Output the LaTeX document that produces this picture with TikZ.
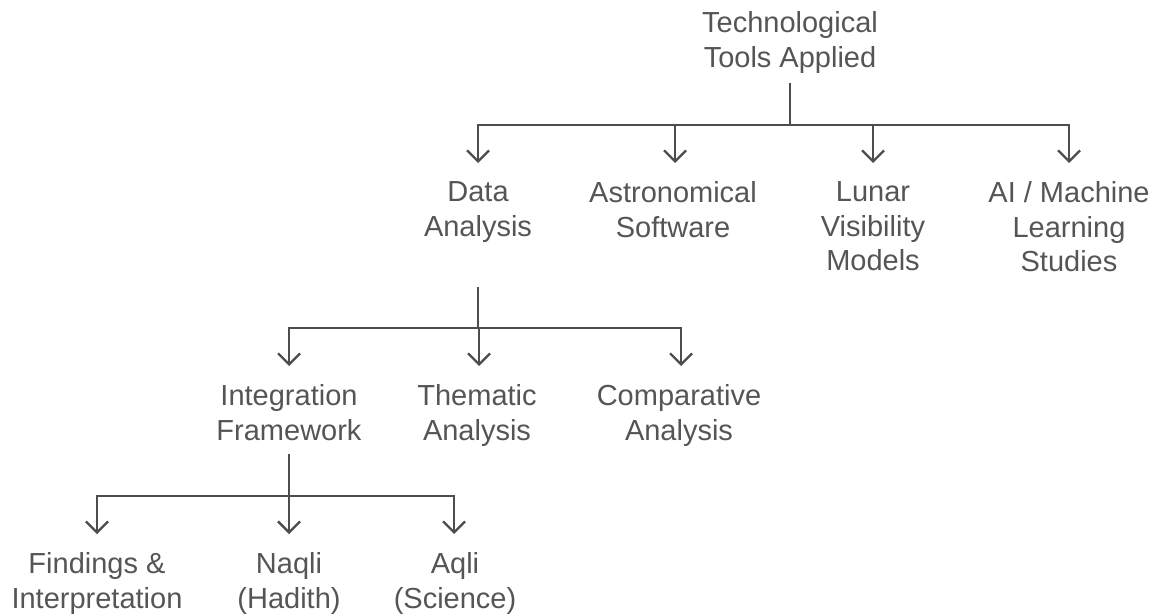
\documentclass[tikz,border=0pt]{standalone}
\usepackage{fontspec}
\setmainfont{Liberation Sans}
\usetikzlibrary{arrows.meta}
\definecolor{txt}{HTML}{555555}
\definecolor{ln}{HTML}{4D4D4D}
\begin{document}
\begin{tikzpicture}[x=1pt,y=1pt,
  lbl/.style={anchor=north, inner sep=0pt, align=center, text=txt, font=\fontsize{29}{34.5}\selectfont},
  conn/.style={draw=ln, line width=2.3pt, -{Straight Barb[length=11pt,width=22pt,line width=2.3pt]}, shorten >=18.5pt}]
\useasboundingbox (0,0) rectangle (1155,-615);
% level 0
\node[lbl] (root) at (790,-11.5) {Technological\\Tools Applied};
% level 1
\node[lbl] (da) at (478,-181.5) {Data\\Analysis};
\node[lbl] (as) at (673,-181.5) {Astronomical\\Software};
\node[lbl] (lv) at (873,-181.5) {Lunar\\Visibility\\Models};
\node[lbl] (ai) at (1069,-181.5) {AI / Machine\\Learning\\Studies};
% level 2
\node[lbl] (if) at (289,-384.5) {Integration\\Framework};
\node[lbl] (ta) at (477,-384.5) {Thematic\\Analysis};
\node[lbl] (ca) at (679,-384.5) {Comparative\\Analysis};
% level 3
\node[lbl] (fi) at (97,-552.5) {Findings \&\\Interpretation};
\node[lbl] (nq) at (289,-552.5) {Naqli\\(Hadith)};
\node[lbl] (aq) at (455,-552.5) {Aqli\\(Science)};
% connectors
\foreach \c/\x in {da/478,as/675,lv/873,ai/1069}
  \draw[conn] (root.south |- 0,-83) -- (root.south |- 0,-125) -| (\c.north -| \x,0);
\foreach \c/\x in {if/289,ta/479,ca/681}
  \draw[conn] (da.south |- 0,-287) -- (da.south |- 0,-328) -| (\c.north -| \x,0);
\foreach \c/\x in {fi/97,nq/289,aq/454}
  \draw[conn] (if.south |- 0,-454) -- (if.south |- 0,-496) -| (\c.north -| \x,0);
\end{tikzpicture}
\end{document}
